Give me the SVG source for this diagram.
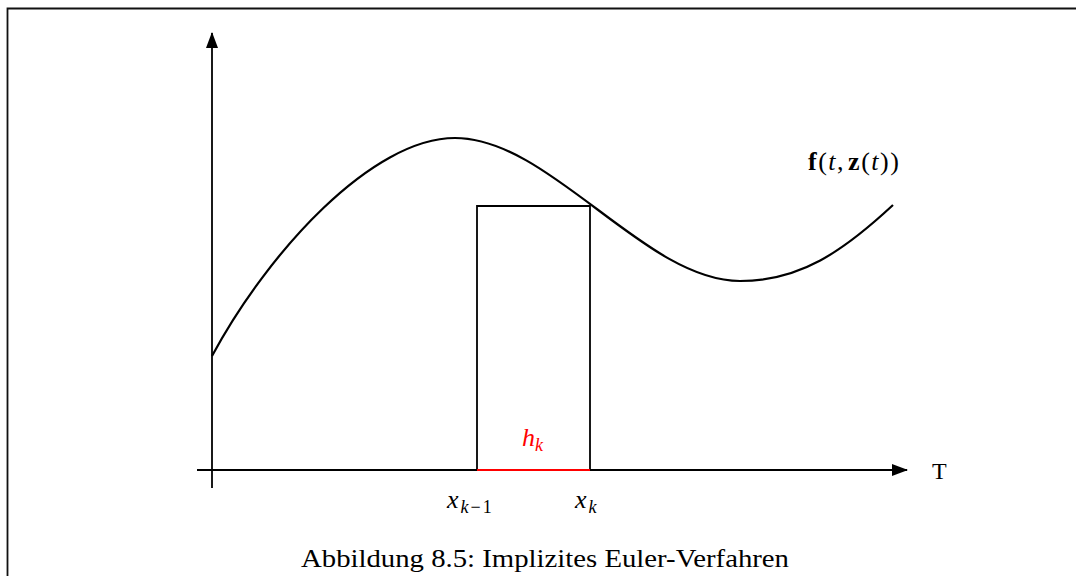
<svg xmlns="http://www.w3.org/2000/svg" width="1076" height="576" viewBox="0 0 1076 576">
<style>
.ax{stroke:#000;stroke-width:1.8;fill:none}
.ln{stroke:#000;stroke-width:1.8;fill:none}
.cv{stroke:#000;stroke-width:2.2;fill:none}
text{font-family:"Liberation Serif","DejaVu Serif",serif;fill:#000}
.it{font-style:italic}
.red{fill:#ff0000}
</style>
<defs>
<marker id="arr" viewBox="0 0 16 12" refX="15" refY="6" markerWidth="16" markerHeight="12" markerUnits="userSpaceOnUse" orient="auto">
<path d="M0,0 L16,6 L0,12 Z" fill="#000"/>
</marker>
</defs>
<rect width="1076" height="576" fill="#fff"/>
<g id="frame">
<path d="M7.5,576 V8.5 H1076" stroke="#111" stroke-width="1.8" fill="none"/>
</g>
<g id="connectors">
<line class="ax" x1="212" y1="488" x2="212" y2="33" marker-end="url(#arr)"/>
<line class="ax" x1="197" y1="470" x2="907" y2="470" marker-end="url(#arr)"/>
</g>
<g id="curve">
<path class="cv" d="M212,356 C268,252 372,138 455,138 C550,138 645,281 740,281 C800,281 843,251.5 893,205"/>
</g>
<g id="rect">
<path class="ln" d="M477,470 V206 H590 V470"/>
<line x1="477" y1="470" x2="590" y2="470" stroke="#ff0000" stroke-width="2"/>
</g>
<g id="labels">
<text x="808" y="170" font-size="26" letter-spacing="1.5"><tspan font-weight="bold">f</tspan>(<tspan class="it">t</tspan>,<tspan dx="3" font-weight="bold">z</tspan>(<tspan class="it">t</tspan>))</text>
<text class="red" x="522" y="446" font-size="26"><tspan class="it">h</tspan><tspan class="it" font-size="18" dy="5">k</tspan></text>
<text x="447" y="508" font-size="26"><tspan class="it">x</tspan><tspan font-size="18" dy="5" dx="2" letter-spacing="2"><tspan class="it">k</tspan>−1</tspan></text>
<text x="575" y="508" font-size="26"><tspan class="it">x</tspan><tspan class="it" font-size="18" dy="5" dx="2">k</tspan></text>
<text x="932" y="479" font-size="24">T</text>
<text x="301" y="567" font-size="25" textLength="488" lengthAdjust="spacingAndGlyphs">Abbildung 8.5: Implizites Euler-Verfahren</text>
</g>
</svg>
